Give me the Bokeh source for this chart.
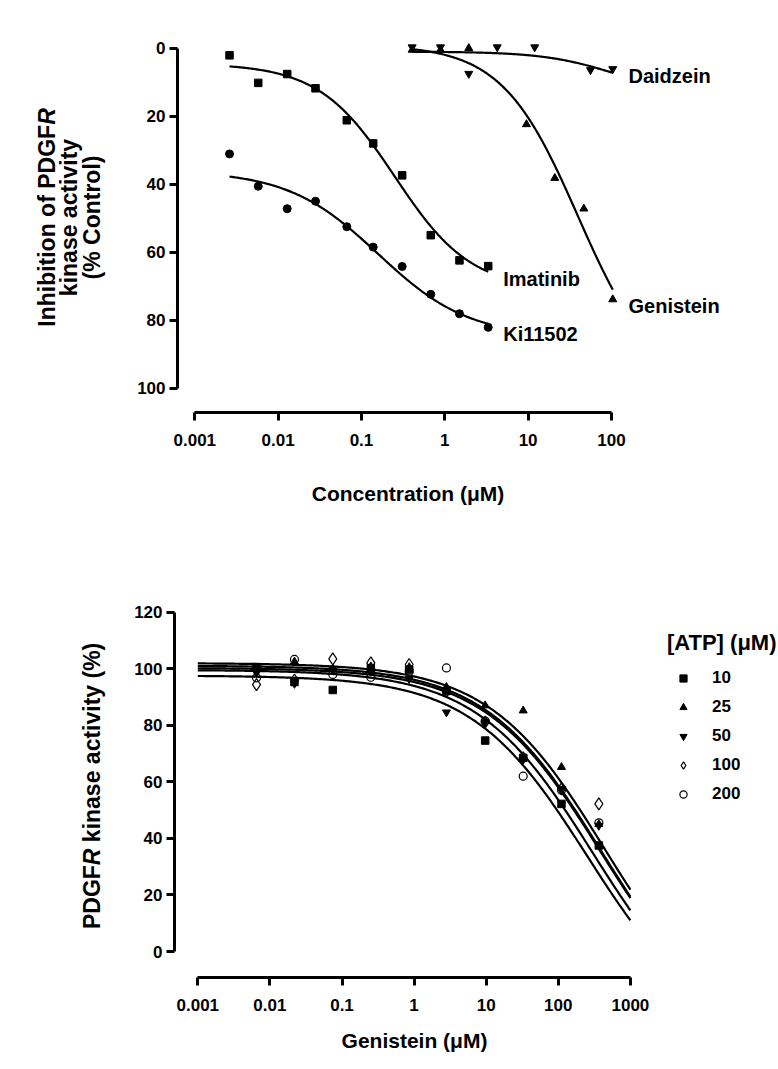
import numpy as np
from bokeh.plotting import figure
from bokeh.models import (Range1d, FixedTicker, CustomJSTickFormatter, Label,
                          Legend, LegendItem)
from bokeh.layouts import column
from bokeh.embed import file_html
from bokeh.resources import INLINE

FONT = "Liberation Sans"

# ---------------- top panel: inhibition of PDGFR kinase activity ----------------
top_conc = [0.00261, 0.00577, 0.01285, 0.0281, 0.0667, 0.1383, 0.308, 0.679, 1.50, 3.32]
imatinib_inh = [2.1, 10.2, 7.6, 11.8, 21.2, 28.0, 37.4, 55.0, 62.4, 64.1]
ki11502_inh = [31.1, 40.6, 47.2, 45.0, 52.5, 58.5, 64.2, 72.4, 78.1, 82.1]
genistein_conc = [0.406, 0.888, 1.94, 9.55, 20.9, 46.6, 103.7]
genistein_inh = [0.5, 0.5, 0.0, 22.4, 38.2, 47.2, 73.9]
daidzein_conc = [0.406, 0.888, 1.94, 4.26, 12.0, 56.1, 103.7]
daidzein_inh = [-0.3, -0.3, 7.5, -0.3, -0.3, 6.4, 6.1]

# fitted sigmoid parameters: (low-conc plateau, high-conc plateau, logIC50, slope)
imatinib_fit = (4.5, 71.0, -0.6, 0.95)
ki11502_fit = (36.0, 85.0, -0.8, 0.8)
genistein_fit = (-1.0, 100.0, 1.6, 0.95)
daidzein_fit = (1.0, 14.0, 2.05, 1.0)

top_xticks = [0.001, 0.01, 0.1, 1, 10, 100]
top_yticks = [0, 20, 40, 60, 80, 100]

# ---------------- bottom panel: genistein at several ATP concentrations ----------------
gen_conc = [0.00652, 0.0219, 0.0745, 0.251, 0.855, 2.81, 9.68, 32.6, 110.7, 365.0]
atp_labels = ["10", "25", "50", "100", "200"]
atp10 = [100.6, 95.3, 92.5, 100.2, 99.7, 92.1, 74.6, 68.5, 52.2, 37.5]
atp25 = [100.0, 102.5, 100.0, 100.8, 100.5, 93.5, 87.0, 85.2, 65.2, 45.0]
atp50 = [98.5, 94.7, 99.5, 99.0, 96.4, 84.6, 81.1, 68.5, 57.5, 44.5]
atp100 = [94.4, 96.0, 103.5, 102.1, 101.5, 92.1, 81.1, 68.5, 57.5, 52.2]
atp200 = [96.8, 103.3, 98.0, 97.0, 99.0, 100.3, 81.5, 62.0, 57.0, 45.5]
# fitted (top, bottom, logIC50, slope) for each ATP level
atp_fits = [(97.6, -30.0, 2.40, 0.54), (102.0, -30.0, 2.65, 0.54), (100.3, -30.0, 2.59, 0.54),
            (101.1, -30.0, 2.595, 0.54), (99.6, -30.0, 2.48, 0.54)]

bot_xticks = [0.001, 0.01, 0.1, 1, 10, 100, 1000]
bot_yticks = [0, 20, 40, 60, 80, 100, 120]


def sigmoid(logx, lo, hi, logic, h):
    return lo + (hi - lo) / (1.0 + 10 ** ((logic - logx) * h))


fmt = CustomJSTickFormatter(code="return tick.toString()")

W = 778
H1 = 560
H2 = 505


def style_axes(p):
    for ax in (p.xaxis[0], p.yaxis[0]):
        ax.axis_line_width = 3
        ax.axis_line_color = "black"
        ax.major_tick_line_width = 3
        ax.major_tick_line_color = "black"
        ax.major_tick_out = 8
        ax.major_tick_in = 0
        ax.minor_tick_line_color = None
        ax.major_label_text_font = FONT
        ax.major_label_text_font_style = "bold"
        ax.major_label_text_font_size = "17px"
        ax.major_label_text_color = "black"
    p.xaxis.major_label_standoff = 14
    p.yaxis.major_label_standoff = 4
    p.grid.visible = False
    p.outline_line_color = None


def add_label(p, x, y, text, size, align="left", angle=0.0, style="bold"):
    p.add_layout(Label(x=x, y=y, text=text, text_font=FONT, text_font_size=size,
                       text_font_style=style, text_align=align, text_baseline="middle",
                       angle=angle, text_color="black"))


# ---- top panel: the frame fills the whole figure, axes are pinned inside it ----
ppd1, x0_1 = 83.33, 194.3      # px per decade, pixel of 0.001
ppu1, y0_1 = 3.4, 47.7         # px per unit, pixel of 0


def px2x1(px):
    return 10 ** (-3 + (px - x0_1) / ppd1)


def py2y1(py):
    return (py - y0_1) / ppu1


p1 = figure(width=W, height=H1, x_axis_type="log", output_backend="svg",
            toolbar_location=None, min_border=0,
            x_range=Range1d(px2x1(0), px2x1(W)), y_range=Range1d(py2y1(H1), py2y1(0)),
            background_fill_color="white", border_fill_color="white")
style_axes(p1)
p1.xaxis.ticker = FixedTicker(ticks=top_xticks)
p1.xaxis.formatter = fmt
p1.xaxis.bounds = (top_xticks[0], top_xticks[-1])
p1.xaxis.fixed_location = py2y1(411.5)
p1.yaxis.ticker = FixedTicker(ticks=top_yticks)
p1.yaxis.bounds = (top_yticks[0], top_yticks[-1])
p1.yaxis.fixed_location = px2x1(177)

for conc, inh, fit in [(top_conc, imatinib_inh, imatinib_fit), (top_conc, ki11502_inh, ki11502_fit),
                       (genistein_conc, genistein_inh, genistein_fit), (daidzein_conc, daidzein_inh, daidzein_fit)]:
    lx = np.linspace(np.log10(conc[0]), np.log10(conc[-1]), 200)
    p1.line(10 ** lx, sigmoid(lx, *fit), line_color="black", line_width=2.2)

p1.scatter(top_conc, imatinib_inh, marker="square", size=7.5, color="black")
p1.scatter(top_conc, ki11502_inh, marker="circle", size=8, color="black")
p1.scatter(genistein_conc, genistein_inh, marker="triangle", size=8, color="black")
p1.scatter(daidzein_conc, daidzein_inh, marker="inverted_triangle", size=8, color="black")

add_label(p1, px2x1(628), py2y1(75), "Daidzein", "20px")
add_label(p1, px2x1(628), py2y1(305), "Genistein", "20px")
add_label(p1, px2x1(502.7), py2y1(278), "Imatinib", "20px")
add_label(p1, px2x1(502.7), py2y1(333), "Ki11502", "20px")
add_label(p1, px2x1(407.5), py2y1(493), "Concentration (μM)", "21px", align="center")

# three-line vertical title; the R of PDGFR is italic (Arial-metric widths at 23px)
fs = 23.0
w_pdgf_top = 8.778 * fs
w_r = 0.722 * fs
w_space = 0.278 * fs
start1 = 217 + (w_pdgf_top + w_r) / 2.0
up = np.pi / 2
add_label(p1, px2x1(46), py2y1(start1), "Inhibition of PDGF", "23px", angle=up)
add_label(p1, px2x1(46), py2y1(start1 - w_pdgf_top), "R", "23px", angle=up, style="bold italic")
add_label(p1, px2x1(68), py2y1(217), "kinase activity", "23px", align="center", angle=up)
add_label(p1, px2x1(91), py2y1(217), "(% Control)", "23px", align="center", angle=up)

# ---- bottom panel (figure starts at page y = H1) ----
ppd2, x0_2 = 72.1, 197.3
ppu2, y0_2 = 2.8275, 951.0 - H1


def px2x2(px):
    return 10 ** (-3 + (px - x0_2) / ppd2)


def py2y2(py_page):
    return (y0_2 - (py_page - H1)) / ppu2


p2 = figure(width=W, height=H2, x_axis_type="log", output_backend="svg",
            toolbar_location=None, min_border=0,
            x_range=Range1d(px2x2(0), px2x2(W)), y_range=Range1d(py2y2(H1 + H2), py2y2(H1)),
            background_fill_color="white", border_fill_color="white")
style_axes(p2)
p2.xaxis.ticker = FixedTicker(ticks=bot_xticks)
p2.xaxis.formatter = fmt
p2.xaxis.bounds = (bot_xticks[0], bot_xticks[-1])
p2.xaxis.fixed_location = py2y2(976.7)
p2.yaxis.ticker = FixedTicker(ticks=bot_yticks)
p2.yaxis.bounds = (bot_yticks[0], bot_yticks[-1])
p2.yaxis.fixed_location = px2x2(174)

lx2 = np.linspace(np.log10(bot_xticks[0]), np.log10(bot_xticks[-1]), 300)
for fit in atp_fits:
    top, bottom, logic, h = fit
    p2.line(10 ** lx2, sigmoid(lx2, bottom, top, logic, -h), line_color="black", line_width=2.2)

series = [atp10, atp25, atp50, atp100, atp200]
marker_kw = [
    dict(marker="square", size=7.5, fill_color="black", line_color="black"),
    dict(marker="triangle", size=8, fill_color="black", line_color="black"),
    dict(marker="inverted_triangle", size=8, fill_color="black", line_color="black"),
    dict(marker="diamond", size=12, fill_color=None, line_color="black", line_width=1.2),
    dict(marker="circle", size=8, fill_color=None, line_color="black", line_width=1.2),
]
items = []
for lab, vals, kw in zip(atp_labels, series, marker_kw):
    r = p2.scatter(gen_conc, vals, **kw)
    items.append(LegendItem(label=lab, renderers=[r]))

legend = Legend(items=items, location=(674, H2 - (804 - H1)), glyph_width=18, glyph_height=20,
                label_height=20, spacing=9, padding=0, margin=0, label_standoff=20,
                border_line_color=None, background_fill_alpha=0,
                label_text_font=FONT, label_text_font_style="bold", label_text_font_size="17px",
                label_text_color="black")
p2.add_layout(legend)

add_label(p2, px2x2(776), py2y2(642), "[ATP] (μM)", "22px", align="right")
add_label(p2, px2x2(414), py2y2(1040), "Genistein (μM)", "21px", align="center")

w_pdgf = 2.778 * fs
w_rest = 9.27 * fs
start2 = 778.5 + (w_pdgf + w_r + w_space + w_rest) / 2.0
add_label(p2, px2x2(91), py2y2(start2), "PDGF", "23px", angle=up)
add_label(p2, px2x2(91), py2y2(start2 - w_pdgf), "R", "23px", angle=up, style="bold italic")
add_label(p2, px2x2(91), py2y2(start2 - w_pdgf - w_r - w_space), "kinase activity (%)", "23px", angle=up)

layout = column(p1, p2, spacing=0)
with open("out.html", "w") as f:
    f.write(file_html(layout, INLINE))
